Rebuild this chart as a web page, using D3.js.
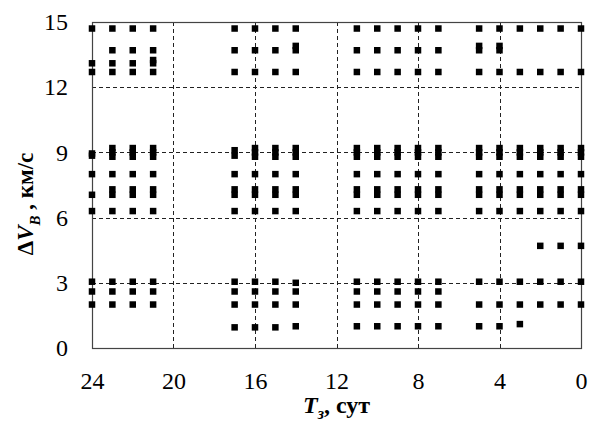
<!DOCTYPE html>
<html>
<head>
<meta charset="utf-8">
<script src="https://cdn.jsdelivr.net/npm/d3@7"></script>
<style>
  body { margin: 0; background: #fff; }
  svg text { font-family: "Liberation Serif", "Times New Roman", Times, serif; fill: #000; }
</style>
</head>
<body>
<div id="chart"></div>
<script>
// T_з values (days) for each column of points
var tDays = [24, 23, 22, 21, 17, 16, 15, 14, 11, 10, 9, 8, 7, 5, 4, 3, 2, 1, 0];

// ΔV_B values (km/s) found in each column, same order as tDays
var dvByColumn = [
    [14.7, 13.1, 12.7, 8.95, 8.85, 8.0, 7.05, 6.3, 3.05, 2.6, 2.0],
    [14.7, 13.7, 13.1, 12.7, 9.2, 9.0, 8.8, 8.0, 7.3, 7.05, 6.3, 3.05, 2.6, 2.0],
    [14.7, 13.7, 13.1, 12.7, 9.2, 9.0, 8.8, 8.0, 7.3, 7.05, 6.3, 3.05, 2.6, 2.0],
    [14.7, 13.7, 13.25, 13.1, 12.7, 9.2, 9.0, 8.8, 8.0, 7.3, 7.05, 6.3, 3.05, 2.6, 2.0],
    [14.7, 13.7, 12.7, 9.1, 8.85, 8.0, 7.3, 7.05, 6.3, 3.05, 2.6, 2.0, 0.95],
    [14.7, 13.7, 12.7, 9.2, 9.0, 8.8, 8.0, 7.3, 7.05, 6.3, 3.05, 2.6, 2.0, 0.95],
    [14.7, 13.7, 12.7, 9.2, 9.0, 8.8, 8.0, 7.3, 7.05, 6.3, 3.05, 2.6, 2.0, 0.95],
    [14.7, 13.9, 13.7, 12.7, 9.2, 9.0, 8.8, 8.0, 7.3, 7.05, 6.3, 3.0, 2.6, 2.0, 1.0],
    [14.7, 13.7, 12.7, 9.2, 9.0, 8.8, 8.0, 7.3, 7.05, 6.3, 3.05, 2.6, 2.0, 1.0],
    [14.7, 13.7, 12.7, 9.2, 9.0, 8.8, 8.0, 7.3, 7.05, 6.3, 3.05, 2.6, 2.0, 1.0],
    [14.7, 13.7, 12.7, 9.2, 9.0, 8.8, 8.0, 7.3, 7.05, 6.3, 3.05, 2.6, 2.0, 1.0],
    [14.7, 13.7, 12.7, 9.2, 9.0, 8.8, 8.0, 7.3, 7.05, 6.3, 3.05, 2.6, 2.0, 1.0],
    [14.7, 13.7, 12.7, 9.2, 9.0, 8.8, 8.0, 7.3, 7.05, 6.3, 3.05, 2.6, 2.0, 1.0],
    [14.7, 13.9, 13.7, 12.7, 9.2, 9.0, 8.8, 8.0, 7.3, 7.05, 6.3, 3.05, 2.0, 1.0],
    [14.7, 13.9, 13.7, 12.7, 9.2, 9.0, 8.8, 8.0, 7.3, 7.05, 6.3, 3.05, 2.0, 1.0],
    [14.7, 12.7, 9.2, 9.0, 8.8, 8.0, 7.3, 7.05, 6.3, 3.05, 2.0, 1.1],
    [14.7, 12.7, 9.2, 9.0, 8.8, 8.0, 7.3, 7.05, 6.3, 4.7, 3.05, 2.0],
    [14.7, 12.7, 9.2, 9.0, 8.8, 8.0, 7.3, 7.05, 6.3, 4.7, 3.05, 2.0],
    [14.7, 12.7, 9.2, 9.0, 8.8, 8.0, 7.3, 7.05, 6.3, 4.7, 3.05, 2.0]
];

var xTicks = [24, 20, 16, 12, 8, 4, 0];
var yTicks = [0, 3, 6, 9, 12, 15];

var serif = "'Liberation Serif', 'Times New Roman', Times, serif";

var margin = {top: 22, right: 10, bottom: 79, left: 92},
    width = 591 - margin.left - margin.right,
    height = 427 - margin.top - margin.bottom;

var points = [];
tDays.forEach(function (t, i) {
    dvByColumn[i].forEach(function (v) {
        points.push({t: t, dv: v});
    });
});

var x = d3.scaleLinear().domain([24, 0]).range([0, width]);
var y = d3.scaleLinear().domain([0, 15]).range([height, 0]);

var svg = d3.select("#chart").append("svg")
    .attr("width", 591)
    .attr("height", 427)
    .append("g")
    .attr("transform", "translate(" + margin.left + "," + margin.top + ")");

// dashed grid
svg.append("g")
    .selectAll("line")
    .data(xTicks.filter(function (d) { return d !== 24 && d !== 0; }))
    .enter().append("line")
    .attr("x1", function (d) { return Math.round(x(d)) + 0.5; })
    .attr("x2", function (d) { return Math.round(x(d)) + 0.5; })
    .attr("y1", 0)
    .attr("y2", height)
    .attr("stroke", "#222")
    .attr("stroke-dasharray", "4,3");

svg.append("g")
    .selectAll("line")
    .data(yTicks.filter(function (d) { return d !== 0 && d !== 15; }))
    .enter().append("line")
    .attr("y1", function (d) { return Math.round(y(d)) + 0.5; })
    .attr("y2", function (d) { return Math.round(y(d)) + 0.5; })
    .attr("x1", 0)
    .attr("x2", width)
    .attr("stroke", "#222")
    .attr("stroke-dasharray", "4,3");

// frame
svg.append("rect")
    .attr("x", 0.5)
    .attr("y", 0.5)
    .attr("width", width)
    .attr("height", height)
    .attr("fill", "none")
    .attr("stroke", "#444")
    .attr("stroke-width", 1.2);

// axes (labels only, no tick marks)
var xAxis = svg.append("g")
    .attr("transform", "translate(0," + height + ")")
    .call(d3.axisBottom(x).tickValues(xTicks).tickSize(0).tickPadding(24));
xAxis.select(".domain").remove();
xAxis.selectAll("text")
    .style("font-family", serif)
    .style("font-size", "24px")
    .attr("fill", "#000");

var yAxis = svg.append("g")
    .call(d3.axisLeft(y).tickValues(yTicks).tickSize(0).tickPadding(24));
yAxis.select(".domain").remove();
yAxis.selectAll("text")
    .style("font-family", serif)
    .style("font-size", "24px")
    .attr("fill", "#000");

// points
var s = 6.5;
svg.append("g")
    .selectAll("rect")
    .data(points)
    .enter().append("rect")
    .attr("x", function (d) { return x(d.t) - s / 2; })
    .attr("y", function (d) { return y(d.dv) - s / 2; })
    .attr("width", s)
    .attr("height", s)
    .attr("fill", "#000");

// axis titles
var xt = svg.append("text")
    .attr("x", width / 2)
    .attr("y", height + 65)
    .attr("text-anchor", "middle")
    .style("font-family", serif)
    .style("font-size", "24px")
    .style("font-weight", "bold");
xt.append("tspan").style("font-style", "italic").text("T");
xt.append("tspan").style("font-style", "italic").style("font-size", "16px").attr("dy", 6).text("з");
xt.append("tspan").attr("dy", -6).text(", сут");

var yt = svg.append("text")
    .attr("transform", "translate(" + (33 - margin.left) + "," + (204 - margin.top) + ") rotate(-90)")
    .attr("text-anchor", "middle")
    .style("font-family", serif)
    .style("font-size", "23px")
    .style("font-weight", "bold");
yt.append("tspan").text("Δ");
yt.append("tspan").style("font-style", "italic").text("V");
yt.append("tspan").style("font-style", "italic").style("font-size", "15px").attr("dy", 7).text("B");
yt.append("tspan").attr("dy", -7).text(" , км/с");
</script>
</body>
</html>
